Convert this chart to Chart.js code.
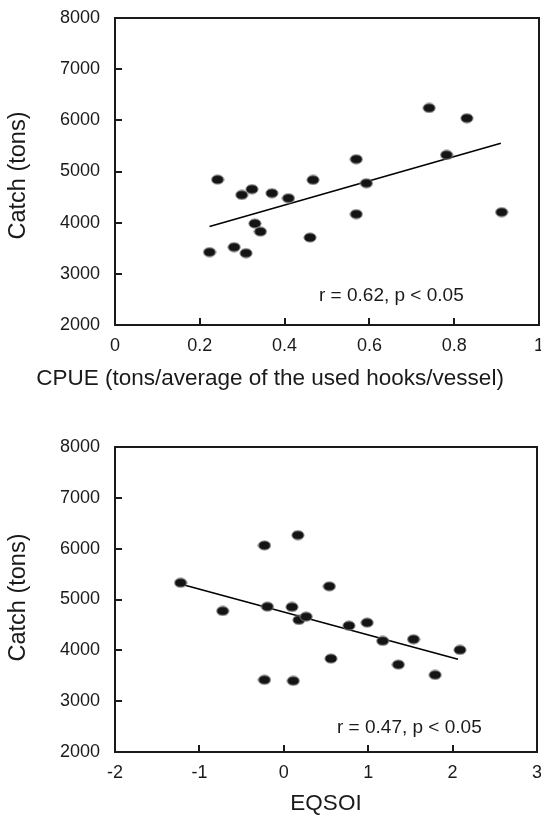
<!DOCTYPE html>
<html>
<head>
<meta charset="utf-8">
<script src="https://cdn.jsdelivr.net/npm/chart.js@4.4.0/dist/chart.umd.min.js"></script>
<style>
  html, body { margin: 0; padding: 0; background: #fff; overflow: hidden; }
  #wrap { position: relative; width: 541px; height: 815px; overflow: hidden; }
  canvas { position: absolute; left: 0; }
</style>
</head>
<body>
<div id="wrap">
  <canvas id="topChart" width="546" height="400" style="top:0"></canvas>
  <canvas id="bottomChart" width="544" height="415" style="top:400px"></canvas>
</div>
<script>
// top panel: catch vs CPUE
const cpueX = [0.223, 0.242, 0.281, 0.299, 0.309, 0.323, 0.330, 0.343, 0.370, 0.409,
               0.460, 0.467, 0.569, 0.569, 0.593, 0.741, 0.782, 0.830, 0.912];
const cpueCatch = [3424, 4842, 3521, 4543, 3404, 4654, 3983, 3826, 4576, 4478,
                   3709, 4836, 5240, 4166, 4771, 6242, 5324, 6041, 4205];
const cpueFitX = [0.223, 0.910];
const cpueFitY = [3924, 5553];

// bottom panel: catch vs EQSOI
const eqsoiX = [-1.223, -0.724, -0.229, -0.229, -0.194, 0.097, 0.112, 0.167, 0.179, 0.265,
                0.540, 0.559, 0.772, 0.988, 1.172, 1.357, 1.537, 1.793, 2.087];
const eqsoiCatch = [5329, 4774, 6064, 3419, 4859, 4853, 3400, 6266, 4597, 4662,
                    5259, 3838, 4486, 4545, 4185, 3720, 4218, 3517, 4008];
const eqsoiFitX = [-1.214, 2.064];
const eqsoiFitY = [5298, 3826];

// tick labels
const catchTicks = [2000, 3000, 4000, 5000, 6000, 7000, 8000];
const cpueTicks = [0, 0.2, 0.4, 0.6, 0.8, 1];
const eqsoiTicks = [-2, -1, 0, 1, 2, 3];

const FONT = '"Liberation Sans", Arial, sans-serif';
const INK = '#1a1a1a';

// slightly flattened dot like the original markers
function makeDot() {
  const c = document.createElement('canvas');
  c.width = 14; c.height = 11;
  const g = c.getContext('2d');
  g.beginPath();
  g.ellipse(7, 5.5, 6.1, 4.6, 0, 0, Math.PI * 2);
  g.fillStyle = '#141414';
  g.fill();
  g.lineWidth = 1;
  g.strokeStyle = '#8a8a8a';
  g.stroke();
  return c;
}
const dot = makeDot();

function toPoints(xs, ys) {
  return xs.map((x, i) => ({ x: x, y: ys[i] }));
}

// box frame, inward tick marks, axis titles and the r/p note
const framePlugin = {
  id: 'frame',
  afterDraw(chart, args, opts) {
    const ctx = chart.ctx;
    const a = chart.chartArea;
    const sx = chart.scales.x, sy = chart.scales.y;
    ctx.save();
    ctx.strokeStyle = INK;
    ctx.lineWidth = 2;
    ctx.strokeRect(a.left, a.top, a.right - a.left, a.bottom - a.top);
    ctx.beginPath();
    sx.ticks.forEach(t => {
      const px = Math.round(sx.getPixelForValue(t.value));
      ctx.moveTo(px, a.bottom);
      ctx.lineTo(px, a.bottom - 7);
    });
    sy.ticks.forEach(t => {
      const py = Math.round(sy.getPixelForValue(t.value));
      ctx.moveTo(a.left, py);
      ctx.lineTo(a.left + 7, py);
    });
    ctx.stroke();

    ctx.fillStyle = INK;
    ctx.font = '22.5px ' + FONT;
    ctx.textAlign = 'center';
    ctx.textBaseline = 'middle';
    ctx.fillText(opts.xTitle, opts.xTitleX, opts.xTitleY);
    ctx.save();
    ctx.font = '23.5px ' + FONT;
    ctx.translate(19, (a.top + a.bottom) / 2 + opts.yTitleShift);
    ctx.rotate(-Math.PI / 2);
    ctx.fillText('Catch (tons)', 0, 0);
    ctx.restore();

    ctx.font = '19px ' + FONT;
    ctx.textAlign = 'left';
    ctx.fillText(opts.note, opts.noteX, opts.noteY);
    ctx.restore();
  }
};

function makeChart(id, pts, fit, xMin, xMax, xTicks, canvasH, pad, frame) {
  const ctx = document.getElementById(id).getContext('2d');
  return new Chart(ctx, {
    type: 'scatter',
    data: {
      datasets: [
        {
          data: pts,
          pointStyle: dot,
          pointRadius: 5,
          pointHoverRadius: 5
        },
        {
          data: fit,
          showLine: true,
          borderColor: '#000',
          borderWidth: 1.6,
          pointRadius: 0,
          fill: false
        }
      ]
    },
    options: {
      responsive: false,
      animation: false,
      devicePixelRatio: 1,
      layout: { padding: pad },
      plugins: {
        legend: { display: false },
        tooltip: { enabled: false },
        frame: frame
      },
      scales: {
        x: {
          type: 'linear',
          min: xMin,
          max: xMax,
          grid: { display: false },
          border: { display: false },
          afterBuildTicks: s => { s.ticks = xTicks.map(v => ({ value: v })); },
          afterFit: s => { s.height = canvasH - frame.bottom; },
          ticks: {
            padding: 2,
            color: INK,
            font: { family: FONT, size: 18 },
            callback: v => String(v)
          }
        },
        y: {
          type: 'linear',
          min: 2000,
          max: 8000,
          grid: { display: false },
          border: { display: false },
          afterBuildTicks: s => { s.ticks = catchTicks.map(v => ({ value: v })); },
          afterFit: s => { s.width = 115; },
          ticks: {
            padding: 7,
            color: INK,
            font: { family: FONT, size: 18 },
            callback: v => String(v)
          }
        }
      }
    },
    plugins: [framePlugin]
  });
}

makeChart('topChart', toPoints(cpueX, cpueCatch), toPoints(cpueFitX, cpueFitY),
  0, 1, cpueTicks, 400, { top: 18, right: 1, left: 0, bottom: 0 },
  {
    bottom: 325,
    xTitle: 'CPUE (tons/average of the used hooks/vessel)',
    xTitleX: 270, xTitleY: 379,
    yTitleShift: 4,
    note: 'r = 0.62, p < 0.05', noteX: 319, noteY: 296
  });

makeChart('bottomChart', toPoints(eqsoiX, eqsoiCatch), toPoints(eqsoiFitX, eqsoiFitY),
  -2, 3, eqsoiTicks, 415, { top: 47, right: 1, left: 0, bottom: 0 },
  {
    bottom: 352,
    xTitle: 'EQSOI',
    xTitleX: 326, xTitleY: 404,
    yTitleShift: -2,
    note: 'r = 0.47, p < 0.05', noteX: 337, noteY: 328
  });
</script>
</body>
</html>
